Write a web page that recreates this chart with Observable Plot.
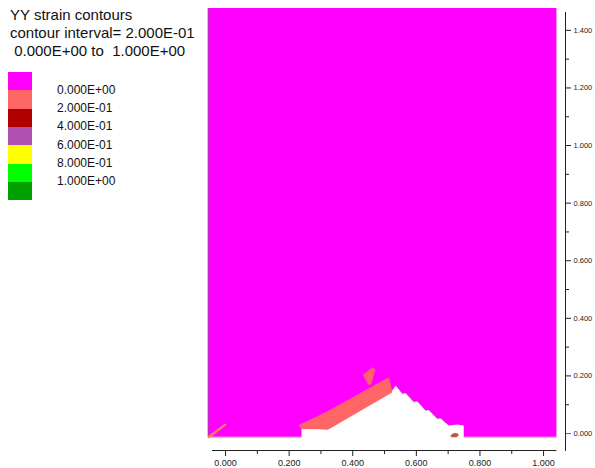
<!DOCTYPE html>
<html>
<head>
<meta charset="utf-8">
<script src="https://cdn.jsdelivr.net/npm/d3@7"></script>
<script src="https://cdn.jsdelivr.net/npm/@observablehq/plot@0.6"></script>
<style>
  html, body { margin: 0; padding: 0; background: #fff; }
  #wrap { position: relative; width: 595px; height: 468px; overflow: hidden; font-family: "Liberation Sans", Arial, sans-serif; }
  #chart { position: absolute; left: 0; top: 0; }
  #title { position: absolute; left: 10px; top: 6px; font-size: 15px; line-height: 18px; color: #111; white-space: pre; }
  .sw { position: absolute; left: 8px; width: 24px; }
  .lab { position: absolute; left: 57px; font-size: 12px; line-height: 14px; color: #111; white-space: pre; }
</style>
</head>
<body>
<div id="wrap">
  <div id="chart"></div>
  <div id="title"></div>
  <div id="legend"></div>
</div>
<script>
// Title block
const titleLines = ["YY strain contours", "contour interval= 2.000E-01", " 0.000E+00 to  1.000E+00"];

// Contour levels and their fill colours
const levelColors = ["#ff00ff", "#ff6666", "#b00000", "#b050b0", "#ffff00", "#00ff00", "#00a000"];
const levelLabels = ["0.000E+00", "2.000E-01", "4.000E-01", "6.000E-01", "8.000E-01", "1.000E+00"];

// Axis ticks (metres)
const xMajor = [0, 0.2, 0.4, 0.6, 0.8, 1.0];
const xMinor = [0.1, 0.3, 0.5, 0.7, 0.9];
const yMajor = [0, 0.2, 0.4, 0.6, 0.8, 1.0, 1.2, 1.4];
const yMinor = [0.1, 0.3, 0.5, 0.7, 0.9, 1.1, 1.3];

// Model box (zero-strain field)
const modelBox = [{x1: -0.054, x2: 1.042, y1: -0.013, y2: 1.476}];

// Void / particle pile outline (no strain data inside)
const voidX = [0.239, 0.239, 0.321, 0.525, 0.535, 0.556, 0.566, 0.592, 0.603, 0.629, 0.639, 0.666, 0.676, 0.702, 0.729, 0.749, 0.749];
const voidY = [-0.016, 0.018, 0.014, 0.150, 0.167, 0.138, 0.141, 0.109, 0.112, 0.080, 0.082, 0.051, 0.053, 0.028, 0.031, 0.028, -0.016];

// Strain band 2.000E-01 along the slope
const bandX = [0.230, 0.252, 0.278, 0.330, 0.498, 0.513, 0.524, 0.325, 0.252, 0.241];
const bandY = [0.028, 0.040, 0.053, 0.082, 0.185, 0.194, 0.143, 0.016, 0.016, 0.016];

// Small wedge sticking up from the band
const wedgeX = [0.433, 0.463, 0.470, 0.457, 0.450];
const wedgeY = [0.204, 0.229, 0.222, 0.170, 0.170];

// Thin streak in the lower-left corner
const streakX = [-0.052, -0.002];
const streakY = [-0.012, 0.030];

// Small strain spot near the toe of the pile
const spotX = [0.708, 0.714, 0.722, 0.730, 0.732, 0.726, 0.712];
const spotY = [-0.008, -0.002, 0.001, -0.001, -0.007, -0.012, -0.012];

const pts = (xs, ys) => xs.map((x, i) => ({x, y: ys[i]}));

const xDomain = [-0.041, 1.069];
const yDomain = [-0.059, 1.462];

const plot = Plot.plot({
  width: 595,
  height: 468,
  marginLeft: 212,
  marginRight: 30,
  marginTop: 12,
  marginBottom: 18,
  style: {background: "transparent", fontFamily: "Liberation Sans, Arial, sans-serif"},
  x: {domain: xDomain},
  y: {domain: yDomain},
  marks: [
    Plot.rect(modelBox, {x1: "x1", x2: "x2", y1: "y1", y2: "y2", fill: levelColors[0]}),
    Plot.ruleX(modelBox, {x: "x1", y1: "y1", y2: "y2", stroke: "#c030c0", strokeWidth: 1.2}),
    Plot.ruleY(modelBox, {y: "y1", x1: "x1", x2: "x2", stroke: "#ff5a7a", strokeWidth: 0.6}),
    Plot.line(pts(voidX, voidY), {x: "x", y: "y", fill: "white", stroke: "none", curve: "linear-closed"}),
    Plot.line(pts(voidX, voidY).slice(4, 14), {x: "x", y: "y", stroke: "#5a9a40", strokeWidth: 0.6, strokeOpacity: 0.45}),
    Plot.line(pts(bandX, bandY), {x: "x", y: "y", fill: levelColors[1], stroke: "#ff6a6a", strokeWidth: 0.5, curve: "linear-closed"}),
    Plot.line(pts(wedgeX, wedgeY), {x: "x", y: "y", fill: levelColors[1], stroke: "#ff6a6a", strokeWidth: 0.5, curve: "linear-closed"}),
    Plot.line(pts(streakX, streakY), {x: "x", y: "y", stroke: "#f5855a", strokeWidth: 2.5, strokeLinecap: "round"}),
    Plot.line(pts(spotX, spotY), {x: "x", y: "y", fill: "#e8403c", stroke: "#4a8a3a", strokeWidth: 0.6, curve: "linear-closed"}),
    // x axis
    Plot.ruleY(modelBox, {y: () => yDomain[0], x1: () => xDomain[0], x2: "x2", stroke: "#222", strokeWidth: 1}),
    Plot.axisX({ticks: xMajor, tickSize: 6, tickPadding: 3, tickFormat: d3.format(".3f"), fontSize: 9, color: "#222", stroke: "#222"}),
    Plot.axisX({ticks: xMinor, tickSize: 4, tickFormat: () => "", stroke: "#222"}),
    // y axis on the right
    Plot.frame({anchor: "right", stroke: "#222"}),
    Plot.axisY({anchor: "right", ticks: yMajor, tickSize: 5, tickPadding: 3, tickFormat: d3.format(".3f"), fontSize: 7.5, color: "#222", stroke: "#222"}),
    Plot.axisY({anchor: "right", ticks: yMinor, tickSize: 3, tickFormat: () => "", stroke: "#222"}),
    Plot.axisY({anchor: "right", ticks: [0], tickSize: 5, tickFormat: () => "", stroke: "#2a9a2a"})
  ]
});
document.getElementById("chart").appendChild(plot);

// Title
document.getElementById("title").textContent = titleLines.join("\n");

// Legend swatches and level labels
const legend = document.getElementById("legend");
const swTop = 72, swH = 18.3;
levelColors.forEach((c, i) => {
  const d = document.createElement("div");
  d.className = "sw";
  d.style.top = (swTop + i * swH) + "px";
  d.style.height = (swH + 0.4) + "px";
  d.style.background = c;
  legend.appendChild(d);
});
levelLabels.forEach((t, i) => {
  const d = document.createElement("div");
  d.className = "lab";
  d.style.top = (swTop + (i + 1) * swH - 7.5) + "px";
  d.textContent = t;
  legend.appendChild(d);
});
</script>
</body>
</html>
